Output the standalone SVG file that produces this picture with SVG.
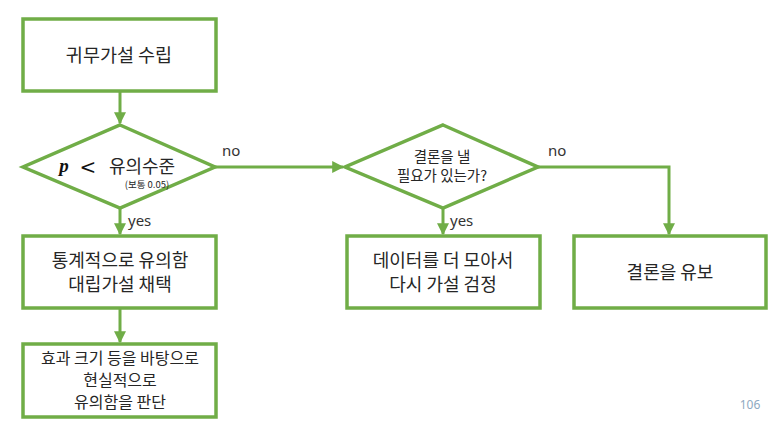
<svg xmlns="http://www.w3.org/2000/svg" width="784" height="427" viewBox="0 0 784 427">
<style>
.box{fill:#fff;stroke:#70AD47;stroke-width:3.5}
.dia{fill:#fff;stroke:#70AD47;stroke-width:3.5;stroke-linejoin:miter}
.con{fill:none;stroke:#70AD47;stroke-width:3}
.t{font-family:"Noto Sans CJK KR","Noto Sans",sans-serif;fill:#262626;text-anchor:middle}
.lbl{font-family:"Noto Sans","Noto Sans CJK KR",sans-serif;fill:#333;font-size:15px}
</style>
<defs>
<marker id="ah" viewBox="0 0 10 10" refX="9" refY="5" markerWidth="4" markerHeight="4" orient="auto" markerUnits="strokeWidth">
<path d="M0,0 L10,5 L0,10 z" fill="#70AD47"/>
</marker>
</defs>
<rect width="784" height="427" fill="#fff"/>
<g id="connectors">
<line class="con" x1="120" y1="92" x2="120" y2="123" marker-end="url(#ah)"/>
<line class="con" x1="215" y1="167" x2="343" y2="167" marker-end="url(#ah)"/>
<polyline class="con" points="538,167 669,167 669,234" marker-end="url(#ah)"/>
<line class="con" x1="443" y1="208" x2="443" y2="234" marker-end="url(#ah)"/>
<line class="con" x1="120" y1="208" x2="120" y2="234" marker-end="url(#ah)"/>
<line class="con" x1="120" y1="308" x2="120" y2="342" marker-end="url(#ah)"/>
<text class="lbl" x="222" y="156">no</text>
<text class="lbl" x="548" y="156">no</text>
<text class="lbl" x="128" y="226">yes</text>
<text class="lbl" x="450" y="226">yes</text>
</g>
<g id="n1">
<rect class="box" x="23" y="19" width="193" height="72"/>
<text class="t" x="119" y="62" font-size="18.5">귀무가설 수립</text>
</g>
<g id="d1">
<polygon class="dia" points="120,125 215,167 120,208 23,167"/>
<text x="64" y="172" font-family="Liberation Serif,serif" font-style="italic" font-weight="bold" font-size="19" fill="#111" text-anchor="middle">p</text>
<text x="88" y="174" font-family="DejaVu Serif,serif" font-size="20" fill="#111" text-anchor="middle">&lt;</text>
<text class="t" x="142" y="173" font-size="18">유의수준</text>
<text class="t" x="147" y="188" font-size="9.5" fill="#444">(보통 0.05)</text>
</g>
<g id="d2">
<polygon class="dia" points="443,125 538,167 443,208 345,167"/>
<text class="t" x="442" y="162" font-size="14.5">결론을 낼</text>
<text class="t" x="442" y="181" font-size="14.5">필요가 있는가?</text>
</g>
<g id="n2">
<rect class="box" x="23" y="236" width="193" height="72"/>
<text class="t" x="120" y="267" font-size="18">통계적으로 유의함</text>
<text class="t" x="120" y="291" font-size="18">대립가설 채택</text>
</g>
<g id="n3">
<rect class="box" x="23" y="344" width="193" height="73"/>
<text class="t" x="120" y="364" font-size="16">효과 크기 등을 바탕으로</text>
<text class="t" x="120" y="386" font-size="16">현실적으로</text>
<text class="t" x="120" y="408" font-size="16">유의함을 판단</text>
</g>
<g id="n4">
<rect class="box" x="347" y="236" width="193" height="72"/>
<text class="t" x="443" y="267" font-size="18">데이터를 더 모아서</text>
<text class="t" x="443" y="291" font-size="18">다시 가설 검정</text>
</g>
<g id="n5">
<rect class="box" x="574" y="236" width="192" height="72"/>
<text class="t" x="670" y="279" font-size="18">결론을 유보</text>
</g>
<text x="750" y="409" font-family="Noto Sans,sans-serif" font-size="12" fill="#8EA9C1" text-anchor="middle">106</text>
</svg>
